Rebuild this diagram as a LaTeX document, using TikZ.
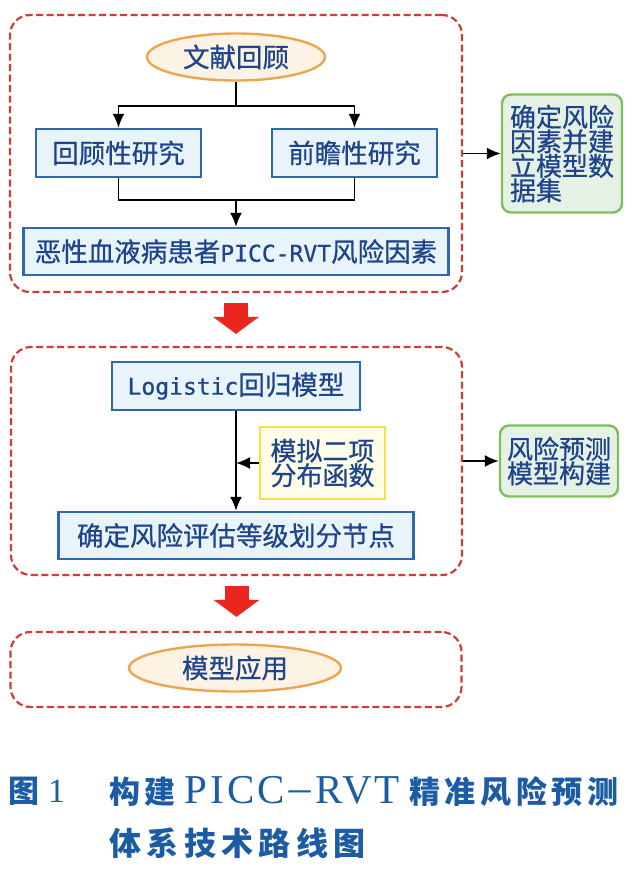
\documentclass[tikz,border=0pt]{standalone}
\usepackage{fontspec}
\newfontfamily\cjk[FakeBold=0.7]{Noto Sans CJK SC}
\newfontfamily\monolat[FakeBold=0.7]{DejaVu Sans Mono}
\newfontfamily\capcjk[LetterSpace=15]{Noto Sans CJK SC}
\newfontfamily\capcjkwide[LetterSpace=17]{Noto Sans CJK SC}
\newfontfamily\capserif[LetterSpace=7]{Liberation Serif}
\usetikzlibrary{arrows.meta, shapes.geometric}
\definecolor{ink}{RGB}{30,68,140}
\definecolor{frame}{RGB}{205,62,52}
\definecolor{boxline}{RGB}{45,105,172}
\definecolor{boxfill}{RGB}{233,244,250}
\definecolor{capline}{RGB}{236,165,80}
\definecolor{capfill}{RGB}{253,243,228}
\definecolor{resline}{RGB}{125,190,95}
\definecolor{resfill}{RGB}{229,241,229}
\definecolor{noteline}{RGB}{248,224,70}
\definecolor{notefill}{RGB}{255,253,232}
\definecolor{fatred}{RGB}{234,38,30}
\definecolor{capblue}{RGB}{28,92,165}
\newcommand{\boxfont}{\cjk\fontsize{26.5pt}{28pt}\selectfont}
\newcommand{\sidefont}{\cjk\fontsize{26pt}{24.5pt}\selectfont}
\newcommand{\lat}[1]{{\monolat\fontsize{23pt}{24pt}\selectfont #1}}
\tikzset{
    % dashed red frame round each stage of the route
    stage/.style={draw=frame, line width=2.2pt, dash pattern=on 7pt off 3.5pt,
        rounded corners=20pt, inner sep=0pt},
    % blue step box
    stepbox/.style={draw=boxline, fill=boxfill, line width=2.4pt, inner sep=0pt,
        font=\boxfont, text=ink},
    % orange ellipse at start and end
    endcap/.style={ellipse, draw=capline, fill=capfill, line width=2.4pt,
        inner sep=0pt, font=\boxfont, text=ink},
    % green side box, result of a stage
    result/.style={draw=resline, fill=resfill, line width=2.4pt, rounded corners=9pt,
        inner sep=0pt, align=left, font=\sidefont, text=ink},
    % yellow note box
    note/.style={draw=noteline, fill=notefill, line width=2pt, inner sep=0pt,
        align=left, font=\sidefont, text=ink},
    % plain and directed connectors
    line/.style={line width=1.8pt},
    edge/.style={line width=1.8pt, -{Latex[length=14pt, width=12pt]}},
    % fat red arrow between stages
    bigarrow/.style={draw=fatred, line width=24pt, -{Triangle[length=17pt, width=45pt]}},
    % figure caption
    caption/.style={anchor=west, inner sep=0pt, text=capblue},
}

\begin{document}
\begin{tikzpicture}[x=1pt, y=-1pt]
    \useasboundingbox (0,0) rectangle (639,883);
    \fill[white] (0,0) rectangle (639,883);

    % --- stage 1: risk factors ---
    \node[stage, minimum width=452pt, minimum height=277pt] (stg1) at (236,153.5) {};
    \node[endcap, minimum width=178pt, minimum height=47pt] (lit) at (236,57) {文献回顾};
    \node[stepbox, minimum width=165pt, minimum height=48pt] (retro) at (118.5,153) {回顾性研究};
    \node[stepbox, minimum width=165pt, minimum height=48pt] (prosp) at (354.5,153) {前瞻性研究};
    \node[stepbox, minimum width=425pt, minimum height=47pt] (factor) at (236,251.5)
        {恶性血液病患者\lat{PICC-RVT}风险因素};
    \coordinate (split) at (236,106);
    \coordinate (merge) at (236,200);
    \draw[line] (lit) -- (split);
    \draw[edge] (split) -| (retro);
    \draw[edge] (split) -| (prosp);
    \draw[line] (retro) |- (merge) -| (prosp);
    \draw[edge] (merge) -- (factor);

    \node[result, minimum width=120pt, minimum height=118pt] (res1) at (562,153.5)
        {确定风险\\因素并建\\立模型数\\据集};
    \draw[edge] (stg1.east) -- (res1);

    % --- stage 2: prediction model ---
    \node[stage, minimum width=451pt, minimum height=228pt] (stg2) at (236.5,461) {};
    \node[stepbox, minimum width=248pt, minimum height=48pt] (logit) at (236,386)
        {\lat{Logistic}回归模型};
    \node[note, minimum width=125pt, minimum height=72pt] (binom) at (322.5,463)
        {模拟二项\\分布函数};
    \node[stepbox, minimum width=355pt, minimum height=47pt] (grade) at (236,535.5)
        {确定风险评估等级划分节点};
    \draw[edge] (logit) -- (grade);
    \draw[edge] (binom) -- (logit |- binom);

    \node[result, minimum width=118pt, minimum height=71pt] (res2) at (559,461)
        {风险预测\\模型构建};
    \draw[edge] (stg2.east) -- (res2);

    % --- stage 3: application ---
    \node[stage, minimum width=451pt, minimum height=75pt] (stg3) at (236,669.5) {};
    \node[endcap, minimum width=212pt, minimum height=47pt] (apply) at (235,668) {模型应用};

    % fat arrows between stages
    \draw[bigarrow, shorten <=10pt, shorten >=12pt] (stg1.south) -- (stg1.south |- stg2.north);
    \draw[bigarrow, shorten <=10pt, shorten >=14pt] (stg2.south) -- (stg2.south |- stg3.north);

    % caption
    \node[caption] (fignum) at (8,791)
        {\fontsize{31pt}{34pt}\selectfont{\capcjk\bfseries 图}\hspace{9pt}{\capserif\fontsize{34pt}{34pt}\selectfont 1}};
    \node[caption] (title1) at (109,791)
        {\fontsize{31pt}{34pt}\selectfont{\capcjk\bfseries 构建}\hspace{9pt}{\capserif\fontsize{41pt}{41pt}\selectfont PICC}{\capcjk －}{\capserif\fontsize{41pt}{41pt}\selectfont RVT}\hspace{9pt}{\capcjk\bfseries 精准风险预测}};
    \node[caption] (title2) at (109,843)
        {\fontsize{32pt}{34pt}\selectfont\capcjkwide\bfseries 体系技术路线图};
\end{tikzpicture}
\end{document}
